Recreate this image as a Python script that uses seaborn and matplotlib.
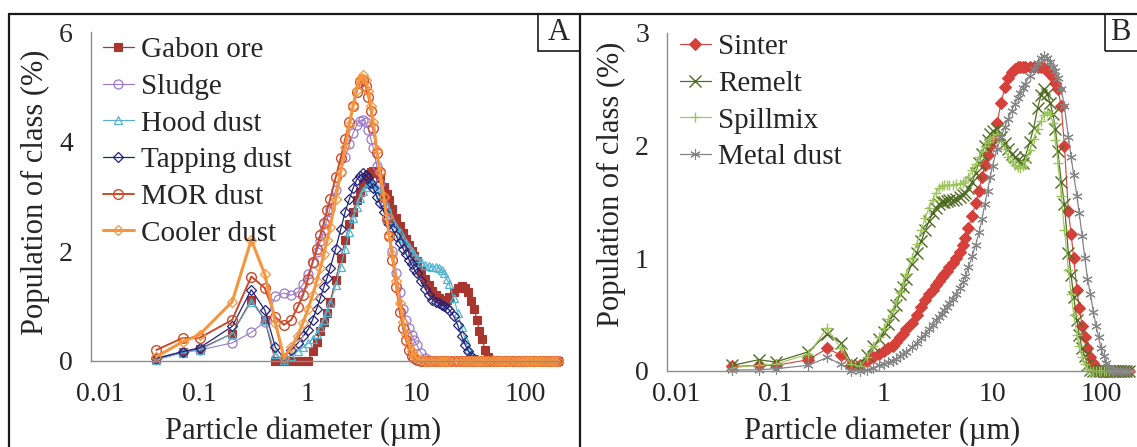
import matplotlib
matplotlib.use("Agg")
import matplotlib.pyplot as plt
import seaborn as sns
from matplotlib.lines import Line2D
from matplotlib.patches import Rectangle
from matplotlib.ticker import NullLocator
from matplotlib.transforms import ScaledTranslation

# Particle size classes (µm)
diameter_um = [
    0.04, 0.07, 0.1, 0.2, 0.3, 0.4, 0.5, 0.6, 0.7, 0.8, 0.9,
    1.0, 1.1, 1.2, 1.3, 1.4, 1.5, 1.6, 1.8, 2.0, 2.2, 2.4, 2.6, 2.8,
    3.0, 3.2, 3.4, 3.6, 3.8, 4.0, 4.3, 4.6, 5.0, 5.3, 5.6, 6.0, 6.5,
    7.0, 7.5, 8.0, 8.5, 9.0, 9.5, 10, 11, 12, 13, 14, 15, 16,
    17, 18, 19, 20, 22, 24, 26, 28, 30, 32, 34, 36, 38,
    40, 43, 46, 50, 53, 56, 60, 63, 67, 71, 75, 80, 85,
    90, 95, 100, 106, 112, 118, 125, 132, 140, 150, 160, 170, 180, 190, 200,
]

# Panel A: population of class (%)
gabon_ore = [
    0.03, 0.17, 0.22, 0.50, 1.12, 0.75, 0.00, 0.00, 0.00, 0.00, 0.00,
    0.00, 0.18, 0.35, 0.55, 0.72, 0.88, 1.08, 1.48, 1.88, 2.20, 2.50, 2.72, 2.93,
    3.08, 3.22, 3.32, 3.40, 3.45, 3.47, 3.42, 3.33, 3.18, 3.05, 2.93, 2.78, 2.60,
    2.46, 2.33, 2.22, 2.11, 2.01, 1.91, 1.82, 1.65, 1.50, 1.38, 1.28, 1.20, 1.14,
    1.11, 1.10, 1.12, 1.16, 1.26, 1.34, 1.37, 1.34, 1.25, 1.10, 0.95, 0.75, 0.55,
    0.40, 0.20, 0.08, 0.02, 0, 0, 0, 0, 0, 0, 0, 0, 0,
    0, 0, 0, 0, 0, 0, 0, 0, 0, 0, 0, 0, 0, 0, 0,
]
sludge = [
    0.05, 0.17, 0.20, 0.33, 0.52, 0.72, 1.18, 1.24, 1.20, 1.25, 1.40,
    1.58, 1.78, 1.98, 2.18, 2.38, 2.58, 2.78, 3.12, 3.45, 3.72, 3.95, 4.15, 4.30,
    4.38, 4.40, 4.35, 4.22, 4.05, 3.88, 3.55, 3.25, 2.85, 2.55, 2.30, 2.00, 1.60,
    1.25, 0.95, 0.75, 0.60, 0.48, 0.38, 0.30, 0.15, 0.05, 0.01, 0, 0, 0,
    0, 0, 0, 0, 0, 0, 0, 0, 0, 0, 0, 0, 0,
    0, 0, 0, 0, 0, 0, 0, 0, 0, 0, 0, 0, 0,
    0, 0, 0, 0, 0, 0, 0, 0, 0, 0, 0, 0, 0, 0, 0,
]
hood_dust = [
    0.02, 0.15, 0.20, 0.50, 1.08, 0.75, 0.12, 0.02, 0.10, 0.18, 0.25,
    0.32, 0.40, 0.50, 0.62, 0.75, 0.90, 1.05, 1.38, 1.72, 2.05, 2.35, 2.60, 2.80,
    2.98, 3.10, 3.18, 3.22, 3.24, 3.22, 3.15, 3.05, 2.92, 2.80, 2.70, 2.58, 2.45,
    2.35, 2.25, 2.15, 2.07, 2.00, 1.94, 1.88, 1.80, 1.75, 1.73, 1.72, 1.72, 1.70,
    1.66, 1.60, 1.50, 1.40, 1.15, 0.88, 0.62, 0.40, 0.22, 0.10, 0.04, 0.01, 0,
    0, 0, 0, 0, 0, 0, 0, 0, 0, 0, 0, 0, 0,
    0, 0, 0, 0, 0, 0, 0, 0, 0, 0, 0, 0, 0, 0, 0,
]
tapping_dust = [
    0.05, 0.17, 0.24, 0.63, 1.30, 0.93, 0.25, 0.05, 0.20, 0.32, 0.45,
    0.57, 0.75, 0.95, 1.15, 1.35, 1.52, 1.70, 2.05, 2.40, 2.72, 2.95, 3.15, 3.30,
    3.38, 3.42, 3.40, 3.33, 3.25, 3.15, 3.00, 2.88, 2.72, 2.60, 2.50, 2.40, 2.28,
    2.15, 2.05, 1.95, 1.85, 1.76, 1.68, 1.60, 1.45, 1.32, 1.20, 1.12, 1.07, 1.05,
    1.03, 1.00, 0.97, 0.93, 0.82, 0.65, 0.45, 0.30, 0.18, 0.10, 0.04, 0.01, 0,
    0, 0, 0, 0, 0, 0, 0, 0, 0, 0, 0, 0, 0,
    0, 0, 0, 0, 0, 0, 0, 0, 0, 0, 0, 0, 0, 0, 0,
]
mor_dust = [
    0.20, 0.42, 0.42, 0.75, 1.54, 1.33, 0.80, 0.66, 0.75, 0.98, 1.20,
    1.50, 1.80, 2.05, 2.30, 2.52, 2.75, 2.95, 3.35, 3.70, 4.05, 4.35, 4.65, 4.90,
    5.08, 5.12, 5.02, 4.82, 4.56, 4.25, 3.80, 3.45, 3.00, 2.60, 2.28, 1.85, 1.35,
    0.90, 0.60, 0.38, 0.20, 0.10, 0.05, 0.02, 0, 0, 0, 0, 0, 0,
    0, 0, 0, 0, 0, 0, 0, 0, 0, 0, 0, 0, 0,
    0, 0, 0, 0, 0, 0, 0, 0, 0, 0, 0, 0, 0,
    0, 0, 0, 0, 0, 0, 0, 0, 0, 0, 0, 0, 0, 0, 0,
]
cooler_dust = [
    0.08, 0.35, 0.48, 1.08, 2.21, 1.58, 0.70, 0.06, 0.25, 0.45, 0.70,
    0.95, 1.20, 1.45, 1.70, 1.95, 2.20, 2.45, 2.95, 3.45, 3.90, 4.30, 4.65, 4.95,
    5.15, 5.22, 5.12, 4.92, 4.65, 4.35, 3.85, 3.45, 3.00, 2.62, 2.28, 1.95, 1.45,
    1.05, 0.72, 0.48, 0.30, 0.18, 0.10, 0.05, 0.01, 0, 0, 0, 0, 0,
    0, 0, 0, 0, 0, 0, 0, 0, 0, 0, 0, 0, 0,
    0, 0, 0, 0, 0, 0, 0, 0, 0, 0, 0, 0, 0,
    0, 0, 0, 0, 0, 0, 0, 0, 0, 0, 0, 0, 0, 0, 0,
]

# Panel B: population of class (%), classes up to 180 µm
sinter = [
    0.04, 0.05, 0.05, 0.10, 0.20, 0.14, 0.05, 0.05, 0.09, 0.12, 0.15,
    0.18, 0.20, 0.22, 0.26, 0.30, 0.33, 0.37, 0.43, 0.50, 0.57, 0.63, 0.68, 0.72,
    0.76, 0.80, 0.83, 0.86, 0.89, 0.92, 0.96, 1.00, 1.06, 1.12, 1.18, 1.27, 1.38,
    1.49, 1.60, 1.72, 1.83, 1.92, 2.00, 2.06, 2.20, 2.38, 2.52, 2.60, 2.65, 2.68,
    2.70, 2.70, 2.70, 2.70, 2.70, 2.70, 2.70, 2.70, 2.69, 2.67, 2.64, 2.61, 2.56,
    2.50, 2.35, 2.00, 1.42, 1.22, 1.00, 0.72, 0.56, 0.40, 0.30, 0.20, 0.12, 0.07,
    0.03, 0.01, 0, 0, 0, 0, 0, 0, 0, 0, 0, 0, 0,
]
remelt = [
    0.05, 0.10, 0.08, 0.17, 0.33, 0.25, 0.07, 0.05, 0.14, 0.22, 0.28,
    0.35, 0.42, 0.50, 0.59, 0.68, 0.75, 0.82, 0.95, 1.05, 1.15, 1.25, 1.33, 1.40,
    1.45, 1.48, 1.50, 1.50, 1.51, 1.52, 1.52, 1.53, 1.54, 1.56, 1.58, 1.62, 1.68,
    1.76, 1.85, 1.93, 2.00, 2.05, 2.10, 2.13, 2.15, 2.08, 2.02, 1.97, 1.93, 1.90,
    1.87, 1.85, 1.85, 1.90, 2.03, 2.16, 2.33, 2.45, 2.50, 2.46, 2.38, 2.28, 2.15,
    1.95, 1.68, 1.48, 1.05, 0.85, 0.66, 0.45, 0.32, 0.20, 0.13, 0.05, 0.01, 0,
    0, 0, 0, 0, 0, 0, 0, 0, 0, 0, 0, 0, 0,
]
spillmix = [
    0.03, 0.05, 0.06, 0.15, 0.38, 0.20, 0.06, 0.04, 0.12, 0.22, 0.30,
    0.38, 0.46, 0.54, 0.62, 0.70, 0.78, 0.86, 1.00, 1.13, 1.25, 1.36, 1.45, 1.52,
    1.58, 1.62, 1.64, 1.65, 1.65, 1.65, 1.65, 1.66, 1.66, 1.67, 1.69, 1.72, 1.78,
    1.84, 1.90, 1.95, 2.00, 2.03, 2.06, 2.08, 2.10, 2.04, 1.97, 1.90, 1.86, 1.83,
    1.81, 1.80, 1.82, 1.86, 1.96, 2.06, 2.15, 2.22, 2.27, 2.30, 2.28, 2.20, 2.05,
    1.85, 1.55, 1.25, 0.90, 0.68, 0.50, 0.32, 0.22, 0.12, 0.06, 0.02, 0, 0,
    0, 0, 0, 0, 0, 0, 0, 0, 0, 0, 0, 0, 0,
]
metal_dust = [
    0.01, 0.01, 0.02, 0.05, 0.12, 0.06, 0.00, 0.00, 0.01, 0.03, 0.05,
    0.06, 0.08, 0.09, 0.11, 0.13, 0.15, 0.17, 0.21, 0.25, 0.29, 0.33, 0.37, 0.41,
    0.45, 0.48, 0.51, 0.54, 0.57, 0.60, 0.64, 0.68, 0.74, 0.79, 0.84, 0.92, 1.02,
    1.12, 1.23, 1.35, 1.48, 1.60, 1.72, 1.82, 1.97, 2.08, 2.17, 2.24, 2.31, 2.37,
    2.42, 2.47, 2.51, 2.55, 2.62, 2.68, 2.73, 2.78, 2.80, 2.78, 2.74, 2.70, 2.66,
    2.60, 2.50, 2.35, 2.08, 1.90, 1.74, 1.55, 1.40, 1.20, 1.00, 0.82, 0.68, 0.52,
    0.40, 0.30, 0.20, 0.13, 0.07, 0.03, 0.01, 0, 0, 0, 0, 0, 0,
]

x_ticks = [0.01, 0.1, 1, 10, 100]
x_tick_labels = ["0.01", "0.1", "1", "10", "100"]
y_ticks_a = [0, 2, 4, 6]
y_ticks_b = [0, 1, 2, 3]

sns.set_style("white")
plt.rcParams["font.family"] = ["Liberation Serif", "DejaVu Serif"]

W, H = 1137, 447
fig = plt.figure(figsize=(W / 100, H / 100), dpi=100)


def px_rect(left, right, top, bottom):
    return [left / W, 1 - bottom / H, (right - left) / W, (bottom - top) / H]


ax_a = fig.add_axes(px_rect(91, 557.7, 32, 361))
ax_b = fig.add_axes(px_rect(667, 1130, 33, 371))

# (label, values, color, marker, marker size, filled, line width, edge width)
series_a = [
    ("Gabon ore", gabon_ore, "#A8362F", "s", 6.0, True, 0.9, 0.8),
    ("Sludge", sludge, "#9A78CC", "o", 6.5, False, 0.8, 0.9),
    ("Hood dust", hood_dust, "#4FB3D1", "^", 6.0, False, 0.8, 0.9),
    ("Tapping dust", tapping_dust, "#23237E", "D", 4.8, False, 0.9, 0.9),
    ("MOR dust", mor_dust, "#CC4A2A", "o", 7.0, False, 1.4, 1.0),
    ("Cooler dust", cooler_dust, "#F7953F", "D", 5.5, False, 2.2, 0.9),
]
series_b = [
    ("Sinter", sinter, "#D5403A", "D", 6.0, True, 0.8, 0.8),
    ("Remelt", remelt, "#4F6B22", "x", 9.0, False, 0.9, 1.0),
    ("Spillmix", spillmix, "#9BC45A", "+", 7.5, False, 0.8, 1.0),
    ("Metal dust", metal_dust, "#858585", (6, 2, 0), 7.5, False, 0.9, 0.8),
]


def draw(ax, series, xs):
    for label, vals, color, marker, ms, filled, lw, mew in series:
        n = len(vals)
        sns.lineplot(
            x=xs[:n], y=vals, ax=ax, color=color, marker=marker,
            markersize=ms, markeredgecolor=color,
            markerfacecolor=color if filled else "none",
            markeredgewidth=mew, linewidth=lw, label=label,
            estimator=None, errorbar=None, clip_on=False,
        )


draw(ax_a, series_a, diameter_um)
draw(ax_b, series_b, diameter_um)


def style_axes(ax, xmax, yticks, xpad):
    ax.set_xscale("log")
    ax.set_xlim(0.01, xmax)
    ax.set_ylim(yticks[0], yticks[-1])
    ax.set_xticks(x_ticks)
    ax.set_xticklabels(x_tick_labels)
    ax.xaxis.set_minor_locator(NullLocator())
    ax.set_yticks(yticks)
    ax.tick_params(axis="x", length=0, labelsize=20, pad=xpad)
    ax.tick_params(axis="y", length=0, labelsize=20, pad=13)
    for side in ("top", "right"):
        ax.spines[side].set_visible(False)
    for side in ("left", "bottom"):
        ax.spines[side].set_color("#8c8c8c")
        ax.spines[side].set_linewidth(1.0)
    ax.set_xlabel("")
    ax.set_ylabel("")
    ax.grid(False)
    # nudge the first decade label clear of the y axis
    first = ax.get_xticklabels()[0]
    first.set_transform(first.get_transform()
                        + ScaledTranslation(9 / 100, 0, fig.dpi_scale_trans))


style_axes(ax_a, 200, y_ticks_a, 15)
style_axes(ax_b, 185, y_ticks_b, 8)

legend_kw = dict(loc="upper left", bbox_transform=fig.transFigure, frameon=False,
                 fontsize=21, handlelength=1.05, handletextpad=0.25,
                 labelspacing=0.35, borderpad=0, borderaxespad=0, numpoints=1)
h, l = ax_a.get_legend_handles_labels()
ax_a.legend(h, l, bbox_to_anchor=(103 / W, 1 - 37 / H), **legend_kw)
h, l = ax_b.get_legend_handles_labels()
ax_b.legend(h, l, bbox_to_anchor=(680 / W, 1 - 34 / H), **legend_kw)

# Axis titles
fig.text(35 / W, 1 - 192 / H, "Population of class (%)", rotation=90,
         ha="center", va="center", fontsize=22)
fig.text(611 / W, 1 - 184 / H, "Population of class (%)", rotation=90,
         ha="center", va="center", fontsize=22)
fig.text(303 / W, 1 - 439 / H, "Particle diameter (µm)",
         ha="center", va="baseline", fontsize=22)
fig.text(882 / W, 1 - 439 / H, "Particle diameter (µm)",
         ha="center", va="baseline", fontsize=22)

# Panel frames and letters
frame_kw = dict(transform=fig.transFigure, color="#1a1a1a", linewidth=1.6)
fig.add_artist(Line2D([9 / W, 1], [1 - 14 / H, 1 - 14 / H], **frame_kw))
fig.add_artist(Line2D([9 / W, 9 / W], [0, 1 - 14 / H], **frame_kw))
fig.add_artist(Line2D([580 / W, 580 / W], [0, 1 - 14 / H], **frame_kw))
fig.add_artist(Rectangle((538 / W, 1 - 51 / H), 42 / W, 37 / H, fill=False,
                         transform=fig.transFigure, edgecolor="#1a1a1a", linewidth=1.2))
fig.add_artist(Rectangle((1105 / W, 1 - 51 / H), 40 / W, 37 / H, fill=False,
                         transform=fig.transFigure, edgecolor="#1a1a1a", linewidth=1.2))
fig.text(559 / W, 1 - 33 / H, "A", ha="center", va="center", fontsize=22)
fig.text(1110 / W, 1 - 33 / H, "B", ha="left", va="center", fontsize=22)

fig.savefig("out.png", dpi=100)
